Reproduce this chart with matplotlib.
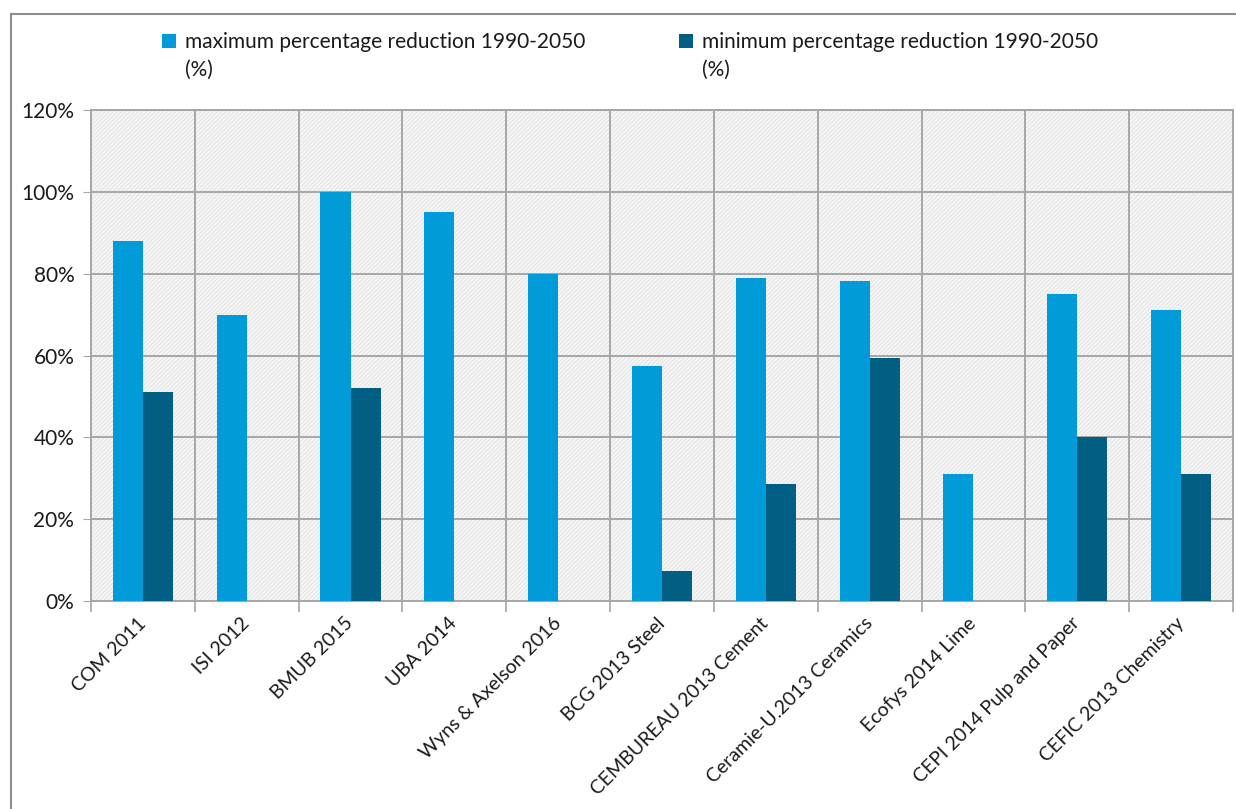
import numpy as np
import matplotlib.pyplot as plt
from matplotlib.patches import Rectangle
from matplotlib.lines import Line2D
from matplotlib.ticker import FuncFormatter, FixedLocator

plt.rcParams['font.family'] = ['Lato', 'DejaVu Sans']
plt.rcParams['hatch.linewidth'] = 0.7

categories = ['COM 2011', 'ISI 2012', 'BMUB 2015', 'UBA 2014', 'Wyns & Axelson 2016',
              'BCG 2013 Steel', 'CEMBUREAU 2013 Cement', 'Ceramie-U.2013 Ceramics',
              'Ecofys 2014 Lime', 'CEPI 2014 Pulp and Paper', 'CEFIC 2013 Chemistry']
max_red = [88, 70, 100, 95, 80, 57.5, 79, 78.3, 31, 75, 71]
min_red = [51, 0, 52, 0, 0, 7.3, 28.5, 59.3, 0, 40, 31]
labels = ['maximum percentage reduction 1990-2050',
          'minimum percentage reduction 1990-2050']

c_max = '#009bd8'
c_min = '#005f83'
grid_c = '#a6a6a6'
fs = 15

fig = plt.figure(figsize=(12.36, 8.09), dpi=100)
ax = fig.add_axes([91 / 1236, 1 - 601 / 809, (1233 - 91) / 1236, (601 - 110) / 809])

x = np.arange(len(categories))
w = 0.29
b1 = ax.bar(x - w / 2, max_red, w, color=c_max, zorder=3)
b2 = ax.bar(x + w / 2, min_red, w, color=c_min, zorder=3)

# hatched background
ax.add_patch(Rectangle((0, 0), 1, 1, transform=ax.transAxes, facecolor='#f6f6f6',
                       edgecolor='#e2e2e2', hatch='/' * 8, lw=0, zorder=0))

ax.set_xlim(-0.5, len(categories) - 0.5)
ax.set_ylim(0, 120)
ax.set_yticks(np.arange(0, 121, 20))
ax.yaxis.set_major_formatter(FuncFormatter(lambda v, p: f'{v:.0f}%'))
ax.tick_params(axis='y', length=6, color=grid_c, labelsize=fs, pad=6, labelcolor='#1a1a1a')

ax.xaxis.set_major_locator(FixedLocator(np.arange(-0.5, len(categories), 1)))
ax.xaxis.set_minor_locator(FixedLocator(x))
ax.set_xticklabels([], minor=False)
ax.set_xticklabels(categories, minor=True, rotation=45, ha='right', va='center',
                   rotation_mode='anchor', fontsize=14, color='#1a1a1a')
ax.tick_params(axis='x', which='major', length=8, color=grid_c, width=1.2)
ax.tick_params(axis='x', which='minor', length=0, pad=14)

ax.grid(True, which='major', color=grid_c, lw=1.4, zorder=1)
ax.set_axisbelow(True)
for s in ax.spines.values():
    s.set_color(grid_c)
    s.set_linewidth(1.4)

leg = fig.legend(handles=[b1, b2], labels=labels, loc='upper left',
                 bbox_to_anchor=(154 / 1236, 1 - 24 / 809), ncol=2, frameon=False,
                 fontsize=fs, handlelength=0.65, handleheight=0.65, handletextpad=0.45,
                 columnspacing=4.5, borderaxespad=0, labelcolor='#1a1a1a')

# second line "(%)" under each legend entry
fig.canvas.draw()
inv = fig.transFigure.inverted()
for t in leg.get_texts():
    bb = t.get_window_extent()
    x0, y0 = inv.transform((bb.x0, bb.y0))
    fig.text(x0, y0 - 8 / 809, '(%)', fontsize=fs, color='#1a1a1a', va='top', ha='left')

# outer frame
fig.add_artist(Line2D([11 / 1236, 11 / 1236], [0, 1 - 14 / 809], color='#8c8c8c', lw=1.5))
fig.add_artist(Line2D([11 / 1236, 1], [1 - 14 / 809, 1 - 14 / 809], color='#8c8c8c', lw=1.5))

fig.savefig('out.png', dpi=100)
